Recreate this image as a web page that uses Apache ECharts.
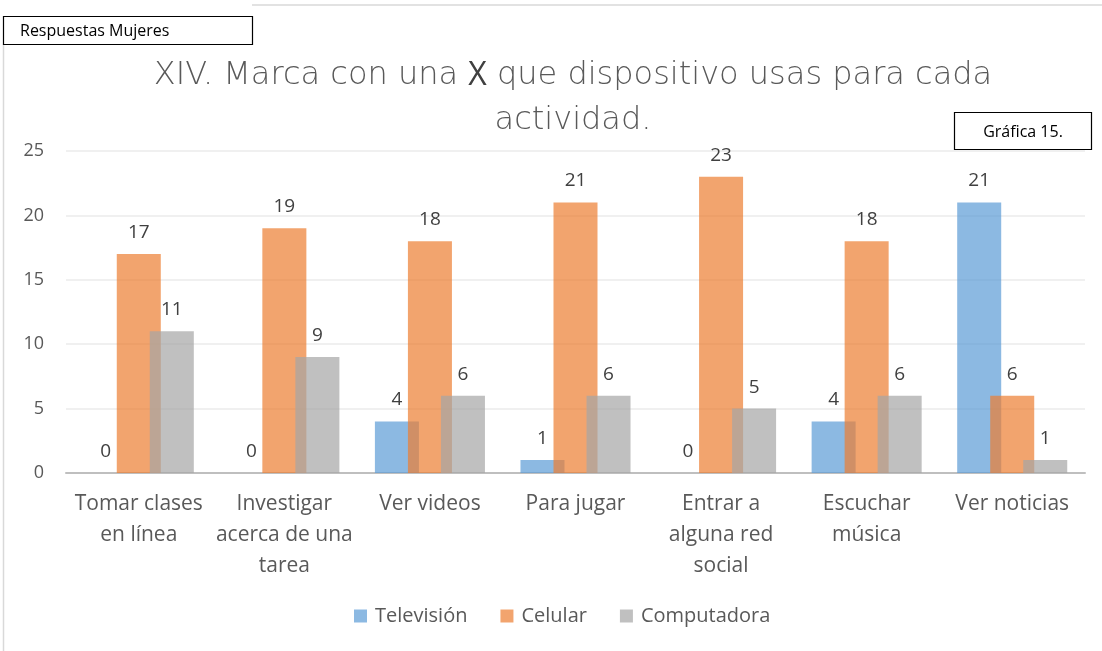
<!DOCTYPE html>
<html><head><meta charset="utf-8">
<script src="https://cdn.jsdelivr.net/npm/echarts@6/dist/echarts.min.js"></script>
<style>html,body{margin:0;padding:0;background:#fff}#c{width:1102px;height:651px}</style>
</head><body><div id="c"></div>
<script>
const categories = ["Tomar clases\nen línea", "Investigar\nacerca de una\ntarea", "Ver videos", "Para jugar", "Entrar a\nalguna red\nsocial", "Escuchar\nmúsica", "Ver noticias"];
const seriesNames = ["Televisión", "Celular", "Computadora"];
const television = [0, 0, 4, 1, 0, 4, 21];
const celular = [17, 19, 18, 21, 23, 18, 6];
const computadora = [11, 9, 6, 6, 5, 6, 1];
const yTicks = [0, 5, 10, 15, 20, 25];
const titleText = "XIV. Marca con una {x|X} que dispositivo usas para cada\nactividad.";
const noteLeft = "Respuestas Mujeres";
const noteRight = "Gráfica 15.";

const colors = ["rgba(91,155,213,0.7)", "rgba(237,125,49,0.7)", "rgba(165,165,165,0.7)"];
const font = "'Open Sans', 'Noto Sans', sans-serif";
const tfont = "'DejaVu Sans', sans-serif";
const values = [television, celular, computadora];

const chart = echarts.init(document.getElementById('c'));
chart.setOption({
  animation: false,
  textStyle: {fontFamily: font},
  title: {
    text: titleText, left: 568, top: 48, textAlign: 'center',
    textStyle: {fontSize: 32, fontWeight: 200, color: '#595959', lineHeight: 45, fontFamily: tfont,
      rich: {x: {fontSize: 32, fontWeight: 'normal', color: '#404040', fontFamily: font, lineHeight: 45}}}
  },
  legend: {
    bottom: 20, left: 349, itemWidth: 13, itemHeight: 13, itemGap: 33,
    icon: 'rect',
    textStyle: {fontSize: 20, color: '#595959', fontFamily: font, padding: [0, 0, 0, 3]},
    data: seriesNames
  },
  grid: {left: 66, right: 17, top: 151, bottom: 178, containLabel: false},
  xAxis: {
    type: 'category', data: categories,
    axisLine: {lineStyle: {color: '#bfbfbf', width: 2}},
    axisTick: {show: false},
    axisLabel: {fontSize: 21, color: '#595959', lineHeight: 31, margin: 16, interval: 0, fontFamily: font}
  },
  yAxis: {
    type: 'value', min: yTicks[0], max: yTicks[yTicks.length - 1], interval: 5,
    axisLine: {show: false}, axisTick: {show: false},
    splitLine: {lineStyle: {color: '#ebebeb', width: 1.5}},
    axisLabel: {fontSize: 18, color: '#595959', margin: 22, fontFamily: font}
  },
  series: seriesNames.map((n, i) => ({
    name: n, type: 'bar', data: values[i],
    barGap: '-25%', barCategoryGap: '24.4%',
    itemStyle: {color: colors[i]},
    label: {show: true, position: 'top', distance: 12, fontSize: 19, color: '#404040', fontFamily: font}
  })),
  graphic: [
    {type: 'line', shape: {x1: 252, y1: 5, x2: 1102, y2: 5}, style: {stroke: '#d9d9d9', lineWidth: 1.5}},
    {type: 'line', shape: {x1: 3.5, y1: 44, x2: 3.5, y2: 651}, style: {stroke: '#d9d9d9', lineWidth: 1.5}},
    {type: 'rect', shape: {x: 3.5, y: 16.5, width: 249, height: 28}, style: {fill: '#fff', stroke: '#000', lineWidth: 1.2}},
    {type: 'text', x: 20, y: 31, style: {text: noteLeft, fontSize: 16, fill: '#000', verticalAlign: 'middle', fontFamily: font}},
    {type: 'rect', shape: {x: 954.5, y: 112.5, width: 137, height: 37}, style: {fill: '#fff', stroke: '#000', lineWidth: 1.2}},
    {type: 'text', x: 1023, y: 132, style: {text: noteRight, fontSize: 16, fill: '#000', align: 'center', verticalAlign: 'middle', fontFamily: font}}
  ]
});
</script></body></html>
